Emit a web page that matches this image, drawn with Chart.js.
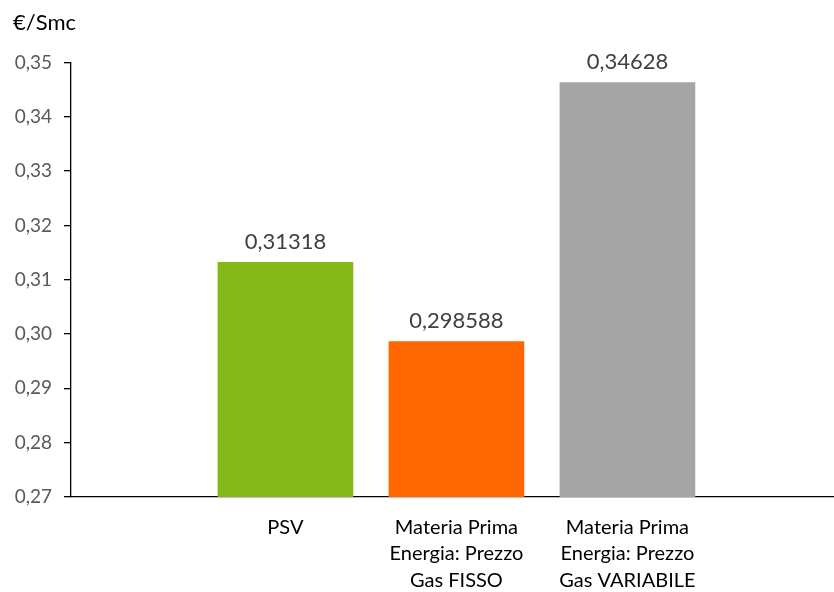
<!DOCTYPE html>
<html lang="it">
<head>
<meta charset="utf-8">
<title>€/Smc</title>
<script src="https://cdn.jsdelivr.net/npm/chart.js@4/dist/chart.umd.min.js"></script>
<style>
    html, body { margin: 0; padding: 0; background: #fff; }
    #wrap { width: 834px; height: 592px; position: relative; }
</style>
</head>
<body>
<div id="wrap"><canvas id="price-chart"></canvas></div>
<script>
// Categorie e valori (€/Smc)
const categories = [
    ['PSV'],
    ['Materia Prima', 'Energia: Prezzo', 'Gas FISSO'],
    ['Materia Prima', 'Energia: Prezzo', 'Gas VARIABILE']
];
const values = [0.31318, 0.298588, 0.34628];
const barColors = ['#84b817', '#ff6600', '#a5a5a5'];
const yTicks = [0.27, 0.28, 0.29, 0.30, 0.31, 0.32, 0.33, 0.34, 0.35];
const unitLabel = '€/Smc';

const FONT = 'Lato, "Open Sans", sans-serif';
const X_MIN = -0.254;
const X_MAX = 4.208;

const fmt = v => String(v).replace('.', ',');

// etichette dei valori sopra le barre
const valueLabels = {
    id: 'valueLabels',
    afterDatasetsDraw(chart) {
        const { ctx } = chart;
        const meta = chart.getDatasetMeta(0);
        ctx.save();
        ctx.font = '22px ' + FONT;
        ctx.fillStyle = '#404040';
        ctx.textAlign = 'center';
        ctx.textBaseline = 'bottom';
        meta.data.forEach((bar, i) => {
            ctx.fillText(fmt(values[i]), bar.x, bar.y - 10);
        });
        ctx.restore();
    }
};

new Chart(document.getElementById('price-chart'), {
    type: 'bar',
    data: {
        datasets: [{
            data: values.map((v, i) => ({ x: i + 1, y: v })),
            backgroundColor: barColors,
            borderWidth: 0,
            barThickness: 135
        }]
    },
    options: {
        responsive: true,
        maintainAspectRatio: false,
        animation: false,
        layout: { padding: { left: 13, right: 0, top: 0, bottom: 0 } },
        plugins: {
            legend: { display: false },
            tooltip: { enabled: false },
            title: {
                display: true,
                text: unitLabel,
                align: 'start',
                color: '#000',
                font: { family: FONT, size: 22, weight: 'normal' },
                padding: { top: 10, bottom: 26 }
            }
        },
        scales: {
            x: {
                type: 'linear',
                offset: false,
                min: X_MIN,
                max: X_MAX,
                // tacca all'incrocio con l'asse y + una tacca per categoria
                afterBuildTicks: scale => {
                    scale.ticks = [{ value: X_MIN }].concat(categories.map((c, i) => ({ value: i + 1 })));
                },
                afterFit: scale => { scale.height = 95; },
                grid: {
                    display: true,
                    drawOnChartArea: false,
                    drawTicks: true,
                    tickLength: 7,
                    lineWidth: 1.3,
                    color: ctx => (ctx.tick && ctx.tick.value === X_MIN ? '#000' : 'rgba(0,0,0,0)')
                },
                border: { display: true, color: '#000', width: 1.3 },
                ticks: {
                    autoSkip: false,
                    maxRotation: 0,
                    padding: 10,
                    color: '#000',
                    font: { family: FONT, size: 20, lineHeight: 1.33 },
                    callback: v => (v === X_MIN ? '' : categories[v - 1])
                }
            },
            y: {
                min: 0.27,
                max: 0.35,
                afterBuildTicks: scale => {
                    scale.ticks = yTicks.map(v => ({ value: v }));
                },
                afterFit: scale => { scale.width = 58; },
                grid: {
                    drawOnChartArea: false,
                    drawTicks: true,
                    tickLength: 7,
                    color: '#000',
                    lineWidth: 1.3
                },
                border: { display: true, color: '#000', width: 1.3 },
                ticks: {
                    padding: 12,
                    color: '#595959',
                    font: { family: FONT, size: 19 },
                    callback: v => v.toFixed(2).replace('.', ',')
                }
            }
        }
    },
    plugins: [valueLabels]
});
</script>
</body>
</html>
